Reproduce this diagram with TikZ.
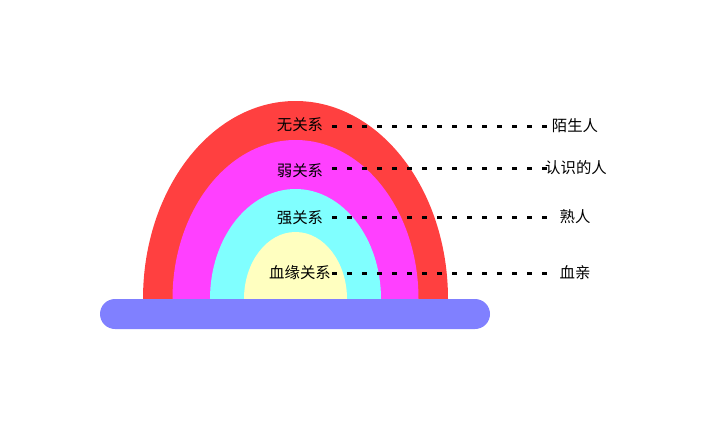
\documentclass[tikz,border=0pt]{standalone}
\usepackage{fontspec}
\newfontfamily\cjk{Noto Sans CJK SC}
\definecolor{cRed}{HTML}{FF4040}
\definecolor{cMag}{HTML}{FF40FF}
\definecolor{cCyan}{HTML}{80FFFF}
\definecolor{cYel}{HTML}{FFFFC0}
\definecolor{cBar}{HTML}{8080FF}
\tikzset{
  lbl/.style={font=\cjk\fontsize{15.4}{17}\selectfont, inner sep=0pt, text=black},
  dotline/.style={line width=3pt, dash pattern=on 5pt off 10pt, black},
}
\begin{document}
\begin{tikzpicture}[x=1pt,y=-1pt]
\useasboundingbox (0,0) rectangle (713,429);
% arches
\fill[cRed] (143,299) arc[start angle=180,end angle=360,x radius=152.5,y radius=198] -- cycle;
\fill[cMag] (172.5,299) arc[start angle=180,end angle=360,x radius=123,y radius=159] -- cycle;
\fill[cCyan] (210,299) arc[start angle=180,end angle=360,x radius=85.5,y radius=110] -- cycle;
\fill[cYel] (244,299) arc[start angle=180,end angle=360,x radius=51.5,y radius=67] -- cycle;
% base bar
\fill[cBar, rounded corners=15pt] (100,299) rectangle (490,329);
% labels
\node[lbl] (a1) at (300,125) {无关系};
\node[lbl] (a2) at (300,171) {弱关系};
\node[lbl] (a3) at (300,218) {强关系};
\node[lbl] (a4) at (300,273) {血缘关系};
\node[lbl] (b1) at (575,126) {陌生人};
\node[lbl] (b2) at (576,168) {认识的人};
\node[lbl] (b3) at (575,217) {熟人};
\node[lbl] (b4) at (575,273) {血亲};
% connectors
\coordinate (s1) at (332,126); \coordinate (e1) at (547,126);
\coordinate (s2) at (332,168); \coordinate (e2) at (547,168);
\coordinate (s3) at (332,217); \coordinate (e3) at (547,217);
\coordinate (s4) at (332,273); \coordinate (e4) at (547,273);
\draw[dotline] (s1) -- (e1);
\draw[dotline] (s2) -- (e2);
\draw[dotline] (s3) -- (e3);
\draw[dotline] (s4) -- (e4);
\end{tikzpicture}
\end{document}
